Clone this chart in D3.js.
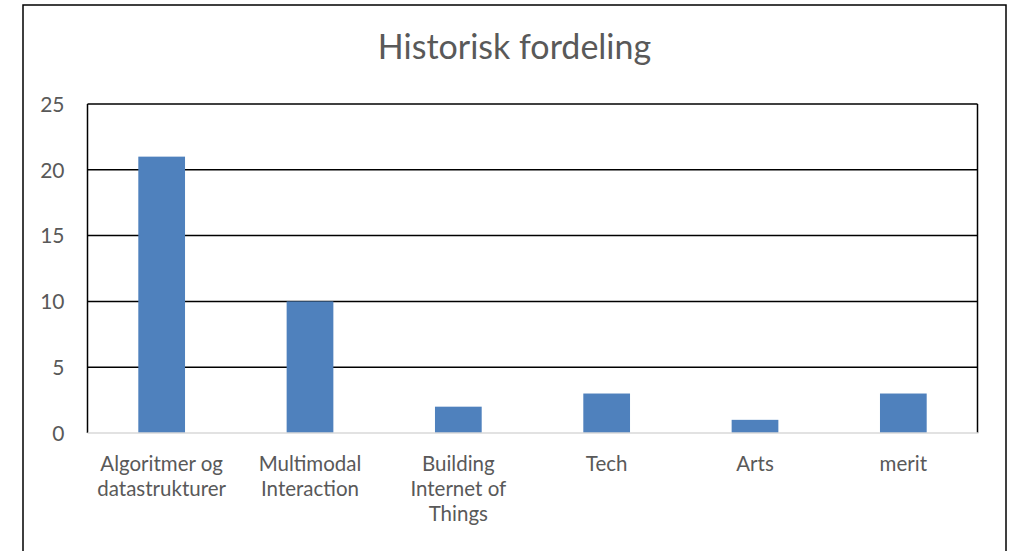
<!DOCTYPE html>
<html>
<head>
<meta charset="utf-8">
<script src="https://cdn.jsdelivr.net/npm/d3@7"></script>
<style>
  body { margin: 0; background: #fff; }
  text { font-family: Lato, "Open Sans", sans-serif; fill: #595959; }
</style>
</head>
<body>
<div id="chart"></div>
<script>
// Dados do gráfico
const categories = [
  "Algoritmer og datastrukturer",
  "Multimodal Interaction",
  "Building Internet of Things",
  "Tech",
  "Arts",
  "merit",
];
const values = [21, 10, 2, 3, 1, 3];
const yTicks = [0, 5, 10, 15, 20, 25];
const title = "Historisk fordeling";

// Linhas das legendas (quebra como no original)
const labelLines = [
  ["Algoritmer og", "datastrukturer"],
  ["Multimodal", "Interaction"],
  ["Building", "Internet of", "Things"],
  ["Tech"],
  ["Arts"],
  ["merit"],
];

const W = 1015, H = 551;
const frame = { left: 23, right: 1006, top: 5 };
const plot = { left: 87.5, right: 977.5, top: 104, bottom: 433 };

const svg = d3.select("#chart").append("svg")
  .attr("width", W).attr("height", H);

// Moldura externa
svg.append("rect")
  .attr("x", frame.left).attr("y", frame.top)
  .attr("width", frame.right - frame.left).attr("height", 560)
  .attr("fill", "#fff").attr("stroke", "#000").attr("stroke-width", 1.5);

// Título (centrado na moldura)
svg.append("text")
  .attr("x", (frame.left + frame.right) / 2)
  .attr("y", 59)
  .attr("text-anchor", "middle")
  .attr("font-size", "34px")
  .text(title);

// Escalas
const x = d3.scaleBand().domain(categories).range([plot.left, plot.right]).padding(0);
const y = d3.scaleLinear().domain([0, 25]).range([plot.bottom, plot.top]);
const barW = x.bandwidth() * 0.315;

// Linhas de grade
svg.append("g")
  .selectAll("line")
  .data(yTicks.filter((d) => d > 0))
  .enter()
  .append("line")
  .attr("x1", plot.left).attr("x2", plot.right)
  .attr("y1", (d) => y(d)).attr("y2", (d) => y(d))
  .attr("stroke", "#000").attr("stroke-width", 1.5);

// Bordas laterais da área do gráfico
svg.append("line")
  .attr("x1", plot.left).attr("x2", plot.left)
  .attr("y1", plot.top).attr("y2", plot.bottom)
  .attr("stroke", "#000").attr("stroke-width", 1.5);
svg.append("line")
  .attr("x1", plot.right).attr("x2", plot.right)
  .attr("y1", plot.top).attr("y2", plot.bottom)
  .attr("stroke", "#000").attr("stroke-width", 1.5);

// Barras
svg.selectAll(".bar")
  .data(values)
  .enter()
  .append("rect")
  .attr("class", "bar")
  .attr("x", (d, i) => x(categories[i]) + x.bandwidth() / 2 - barW / 2)
  .attr("width", barW)
  .attr("y", (d) => y(d))
  .attr("height", (d) => y(0) - y(d))
  .attr("fill", "#4f81bd");

// Eixo X (linha base cinza)
svg.append("line")
  .attr("x1", plot.left).attr("x2", plot.right + 1)
  .attr("y1", y(0)).attr("y2", y(0))
  .attr("stroke", "#d9d9d9").attr("stroke-width", 1.5);

// Eixo Y
const yAxis = svg.append("g")
  .attr("transform", `translate(${plot.left},0)`)
  .call(d3.axisLeft(y).tickValues(yTicks).tickSize(0).tickPadding(23))
  .call((g) => g.select(".domain").remove());
yAxis.selectAll("text")
  .attr("font-family", "Lato, 'Open Sans', sans-serif")
  .attr("font-size", "21px")
  .attr("fill", "#595959")
  .attr("dy", "0.35em");

// Legendas do eixo X (uma linha de texto por linha)
const labelGroups = svg.append("g")
  .selectAll("g")
  .data(categories)
  .enter()
  .append("g");
labelGroups.each(function (d, i) {
  const g = d3.select(this);
  labelLines[i].forEach((line, j) => {
    g.append("text")
      .attr("x", x(d) + x.bandwidth() / 2)
      .attr("y", 471 + j * 25)
      .attr("text-anchor", "middle")
      .attr("font-size", "20.5px")
      .text(line);
  });
});
</script>
</body>
</html>
